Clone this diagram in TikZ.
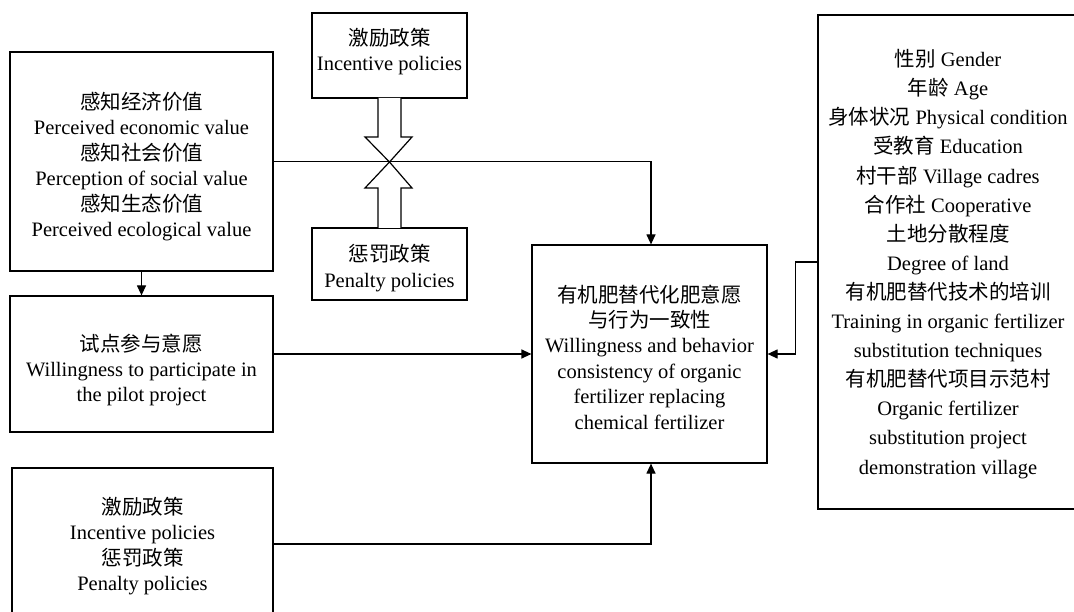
\documentclass[tikz,border=0pt]{standalone}
\usepackage{fontspec}
\setmainfont{Liberation Serif}
\newfontfamily\cjk{Noto Sans CJK SC}
\newcommand\zhtxt[1]{{\cjk #1}}
\usetikzlibrary{arrows.meta}
\begin{document}
\begin{tikzpicture}[x=1pt,y=-1pt,
  box/.style={draw, line width=1.2pt, inner sep=0pt},
  txt/.style={align=center, inner sep=0pt, font=\fontsize{20.5}{25.4}\selectfont},
  conn/.style={line width=1.2pt},
  arr/.style={conn, -{Triangle[length=10pt,width=9pt]}},
  hollow/.style={draw, line width=1.2pt, fill=white}]
\useasboundingbox (0,0) rectangle (1074,612);
\clip (0,0) rectangle (1074,612);

\node[box, minimum width=263pt, minimum height=219pt] (perc) at (141.5,161.5) {};
\node[txt] (perct) at ([yshift=-5pt]perc.center)
  {\zhtxt{感知经济价值}\\Perceived economic value\\\zhtxt{感知社会价值}\\Perception of social value\\\zhtxt{感知生态价值}\\Perceived ecological value};

\node[box, minimum width=263pt, minimum height=136pt] (will) at (141.5,364) {};
\node[txt] (willt) at ([yshift=-6pt]will.center)
  {\zhtxt{试点参与意愿}\\Willingness to participate in\\the pilot project};

\node[box, minimum width=261pt, minimum height=152pt] (pol) at (142.5,544) {};
\node[txt] (polt) at ([yshift=-2pt]pol.center)
  {\zhtxt{激励政策}\\Incentive policies\\\zhtxt{惩罚政策}\\Penalty policies};

\node[box, minimum width=155pt, minimum height=85pt] (inc) at (389.5,55.5) {};
\node[txt] (inct) at ([yshift=4pt]inc.center)
  {\zhtxt{激励政策}\\Incentive policies};

\node[box, minimum width=155pt, minimum height=72pt] (pen) at (389.5,264) {};
\node[txt] (pent) at ([yshift=-4pt]pen.center)
  {\zhtxt{惩罚政策}\\Penalty policies};

\node[box, minimum width=235pt, minimum height=218pt] (cons) at (649.5,354) {};
\node[txt] (const) at ([yshift=-3pt]cons.center)
  {\zhtxt{有机肥替代化肥意愿}\\\zhtxt{与行为一致性}\\Willingness and behavior\\consistency of organic\\fertilizer replacing\\chemical fertilizer};

\node[box, minimum width=260pt, minimum height=494pt] (ctrl) at (948,262) {};
\node[txt, font=\fontsize{20.5}{29.1}\selectfont] (ctrlt) at ([yshift=-2pt]ctrl.center)
  {\zhtxt{性别} Gender\\\zhtxt{年龄} Age\\\zhtxt{身体状况} Physical condition\\\zhtxt{受教育} Education\\\zhtxt{村干部} Village cadres\\\zhtxt{合作社} Cooperative\\\zhtxt{土地分散程度}\\Degree of land\\\zhtxt{有机肥替代技术的培训}\\Training in organic fertilizer\\substitution techniques\\\zhtxt{有机肥替代项目示范村}\\Organic fertilizer\\substitution project\\demonstration village};

% hollow arrows
\coordinate (x) at (389.5,162);
\draw[hollow] (378,98) -- (378,137) -- (365,137) -- (x) -- (412,137) -- (401,137) -- (401,98);
\draw[hollow] (378,228) -- (378,188) -- (365,188) -- (x) -- (412,188) -- (401,188) -- (401,228);

% connectors
\draw[arr] (perc.east) -| ([xshift=1.5pt]cons.north);
\draw[arr] (perc.south) -- (will.north);
\draw[arr] (will.east |- cons.west) -- (cons.west);
\draw[arr] (pol.east) -| ([xshift=1.5pt]cons.south);
\draw[arr] (ctrl.west) -- ++(-22,0) |- (cons.east);
\end{tikzpicture}
\end{document}
